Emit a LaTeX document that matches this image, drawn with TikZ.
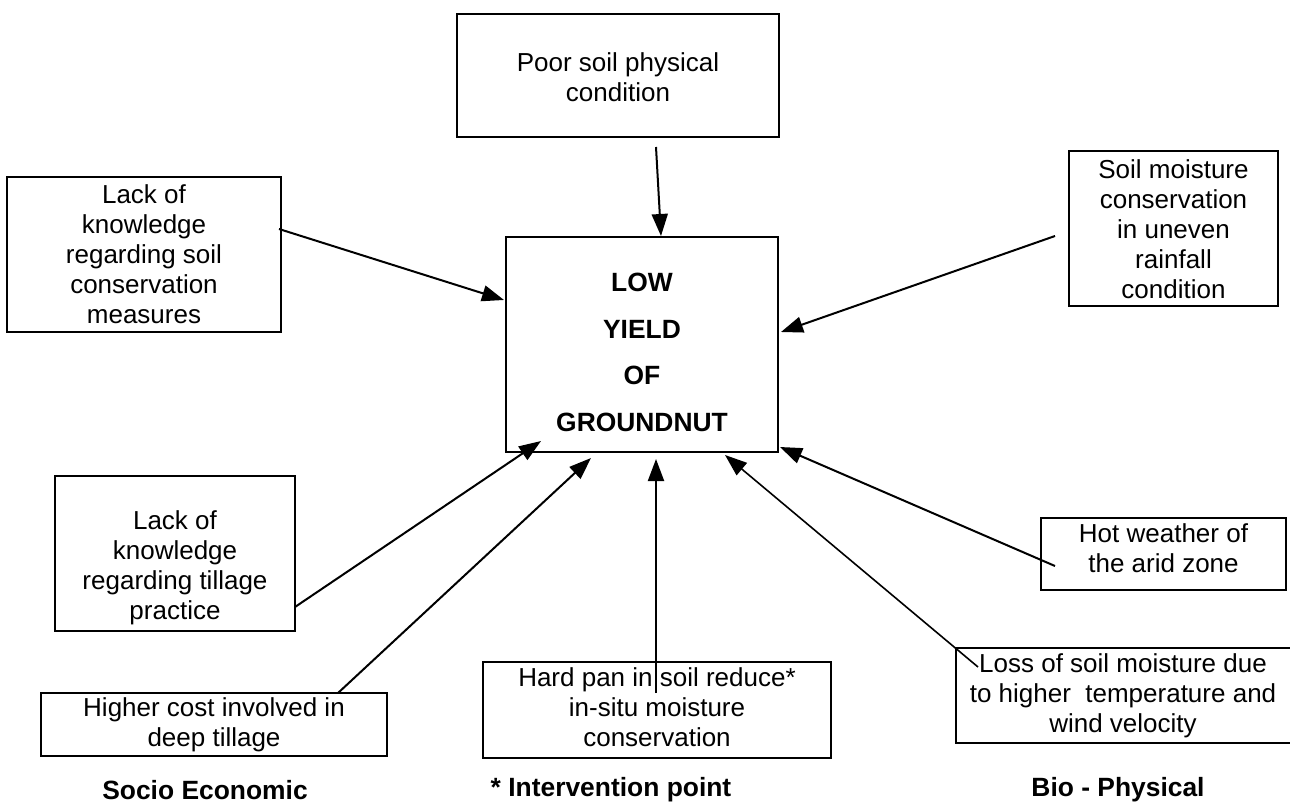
\documentclass[tikz,border=0pt]{standalone}
\usepackage{fontspec}
\setmainfont{Liberation Sans}
\usetikzlibrary{arrows.meta}
\tikzset{
  box/.style={draw=black, line width=1.1pt, fill=none, inner sep=0pt},
  txt/.style={align=center, inner sep=0pt, font=\fontsize{13}{15}\selectfont},
  bigtxt/.style={align=center, inner sep=0pt, font=\bfseries\fontsize{13.2}{23.2}\selectfont},
  lbl/.style={inner sep=0pt, font=\bfseries\fontsize{13.2}{15}\selectfont},
  arr/.style={line width=1pt, -{Triangle[length=11pt,width=8pt]}},
}
\begin{document}
\begin{tikzpicture}[x=0.5pt,y=-0.5pt]
\useasboundingbox (0,0) rectangle (1290,803);
% boxes
\node[box, minimum width=161pt, minimum height=61.5pt] (poor) at (618,75.5) {};
\node[box, minimum width=137pt, minimum height=77.5pt] (lack1) at (144,254.5) {};
\node[box, minimum width=104.5pt, minimum height=77.5pt] (soil) at (1173.5,228.5) {};
\node[box, minimum width=136pt, minimum height=107.5pt] (center) at (642,344.5) {};
\node[box, minimum width=120pt, minimum height=77.5pt] (lackt) at (175,553.5) {};
\node[box, minimum width=173pt, minimum height=31.5pt] (higher) at (214,724.5) {};
\node[box, minimum width=174pt, minimum height=48pt] (hard) at (657,710) {};
\node[box, minimum width=122.5pt, minimum height=36pt] (hot) at (1163.5,554) {};
\node[box, minimum width=168pt, minimum height=47.5pt] (loss) at (1124,695.5) {};
% texts
\node[txt] (poortxt) at (618,77) {Poor soil physical\\condition};
\node[txt] (lack1txt) at (144,254.5) {Lack of\\knowledge\\regarding soil\\conservation\\measures};
\node[txt] (soiltxt) at (1173.5,229) {Soil moisture\\conservation\\in uneven\\rainfall\\condition};
\node[bigtxt] (centertxt) at (642,352.5) {LOW\\YIELD\\OF\\GROUNDNUT};
\node[txt] (lackttxt) at (175,568) {Lack of\\knowledge\\regarding tillage\\practice};
\node[txt] (highertxt) at (214,725) {Higher cost involved in\\deep tillage};
\node[txt] (hardtxt) at (657,707) {Hard pan in soil reduce*\\in-situ moisture\\conservation};
\node[txt] (hottxt) at (1163.5,548) {Hot weather of\\the arid zone};
\node[txt] (losstxt) at (1123,696) {Loss of soil moisture due\\to higher~ temperature and\\wind velocity};
% bottom labels
\node[lbl] (socio) at (205,790) {Socio Economic};
\node[lbl] (interv) at (611,790) {* Intervention point};
\node[lbl] (bio) at (1118,790) {Bio - Physical};
% connector ends
\coordinate (s1) at (656,147);  \coordinate (t1) at (661,236);
\coordinate (s2) at (279,229);  \coordinate (t2) at (504,300);
\coordinate (s3) at (1055,236); \coordinate (t3) at (781,332);
\coordinate (s4) at (295,607);  \coordinate (t4) at (541,441);
\coordinate (s5) at (338,693);  \coordinate (t5) at (591,458);
\coordinate (s6) at (656,693);  \coordinate (t6) at (656,459);
\coordinate (s7) at (978,667);  \coordinate (t7) at (725,455);
\coordinate (s8) at (1055,566); \coordinate (t8) at (780,447);
% connectors
\draw[arr] (s1) -- (t1);
\draw[arr] (s2) -- (t2);
\draw[arr] (s3) -- (t3);
\draw[arr] (s4) -- (t4);
\draw[arr] (s5) -- (t5);
\draw[arr] (s6) -- (t6);
\draw[arr, line width=0.8pt] (s7) -- (t7);
\draw[arr] (s8) -- (t8);
\end{tikzpicture}
\end{document}
